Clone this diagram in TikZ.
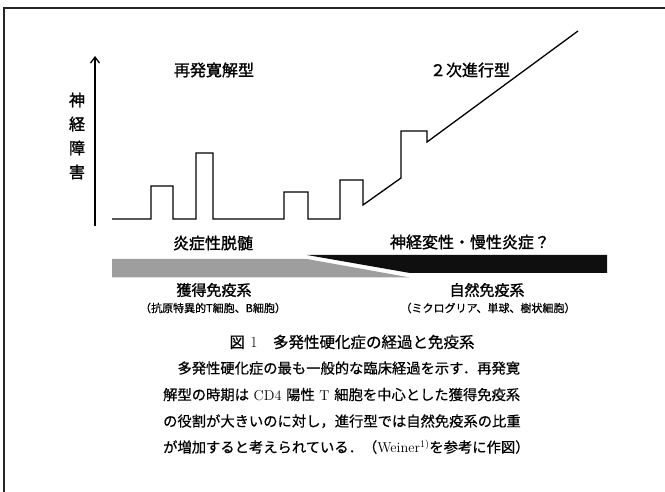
\documentclass[tikz,border=0pt]{standalone}
\usepackage{fontspec}
\usetikzlibrary{arrows.meta}
\newfontfamily\cjk{Noto Sans CJK JP}
\newfontfamily\cjkb[FakeBold=1.4]{Noto Sans CJK JP}
\newfontfamily\cjks[FakeBold=0.8]{Noto Sans CJK JP}
\newfontfamily\cjkc[FakeBold=0.5]{Noto Sans CJK JP}
\newcommand\latn[1]{{\rmfamily #1}}
\definecolor{bargray}{gray}{0.62}
\definecolor{barblack}{gray}{0.06}
\XeTeXlinebreaklocale "ja"
\XeTeXlinebreakskip=0pt plus 2pt minus 1pt
\begin{document}
\begin{tikzpicture}[x=1pt,y=-1pt,
  lab/.style={inner sep=0pt, font=\cjkb\fontsize{16}{16}\selectfont},
  midlab/.style={inner sep=0pt, font=\cjkb\fontsize{15}{15}\selectfont},
  sublab/.style={inner sep=0pt, font=\cjks\fontsize{11}{11}\selectfont},
  capline/.style={inner sep=0pt, anchor=base west, font=\cjkc\fontsize{14.3}{14.3}\selectfont},
  curve/.style={line width=1.3pt, line join=miter},
  axis/.style={line width=1.3pt, -{Straight Barb[length=6pt,width=9pt,line width=1.3pt]}},
  frame/.style={line width=2pt, black!85}]
\useasboundingbox (0,0) rectangle (665,492);
% frame
\draw[frame] (4,496) -- (4,8.5) -- (669,8.5);
% axis
\coordinate (axb) at (95,226);
\coordinate (axt) at (95,56);
\draw[axis] (axb) -- (axt);
\node[lab, align=center, font=\cjkb\fontsize{16}{24}\selectfont] (ylab) at (77,136) {神\\経\\障\\害};
% course curve
\draw[curve] (112,219) -- (151,219) -- (151,186) -- (173,186) -- (173,219)
  -- (196,219) -- (196,153) -- (213,153) -- (213,219) -- (284,219) -- (284,192)
  -- (308,192) -- (308,219) -- (340,219) -- (340,180) -- (363,180) -- (363,205)
  -- (401,178) -- (401,131) -- (427,131) -- (427,142) -- (578,31);
% phase labels
\node[lab] (rr) at (214,70) {再発寛解型};
\node[lab] (sp) at (470,70) {２次進行型};
\node[lab] (inf) at (213,243) {炎症性脱髄};
\node[lab] (neu) at (470,242) {神経変性・慢性炎症？};
% bars
\fill[bargray] (112,259) -- (307,259) -- (410,277.5) -- (112,277.5) -- cycle;
\fill[barblack] (307,255) -- (607,255) -- (607,273) -- (410,273) -- cycle;
% immune labels
\node[midlab] (acq) at (214,290) {獲得免疫系};
\node[sublab] (acqs) at (213,308) {（抗原特異的T細胞、B細胞）};
\node[midlab] (inn) at (487,290) {自然免疫系};
\node[sublab] (inns) at (488,308) {（ミクログリア、単球、樹状細胞）};
% caption
\node[inner sep=0pt, font=\cjks\fontsize{15.5}{15.5}\selectfont] (title) at (352,342) {図\hspace{0.35em}\latn{\fontsize{15.5}{15.5}\selectfont 1}　多発性硬化症の経過と免疫系};
\node[capline] (c1) at (163,373.5) {\makebox[357pt][s]{　多発性硬化症の最も一般的な臨床経過を示す．再発寛}};
\node[capline] (c2) at (163,400) {\makebox[357pt][s]{解型の時期は \latn{CD4} 陽性 \latn{T} 細胞を中心とした獲得免疫系}};
\node[capline] (c3) at (163,426.5) {\makebox[357pt][s]{の役割が大きいのに対し，進行型では自然免疫系の比重}};
\node[capline] (c4) at (163,452.5) {\makebox[357pt][s]{が増加すると考えられている．（\latn{Weiner\textsuperscript{1)}}を参考に作図）}};
\end{tikzpicture}
\end{document}
